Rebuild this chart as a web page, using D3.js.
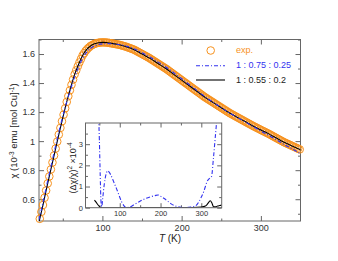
<!DOCTYPE html>
<html>
<head>
<meta charset="utf-8">
<script src="https://cdn.jsdelivr.net/npm/d3@7"></script>
<style>
  body { margin: 0; background: #fff; }
  text { font-family: "Liberation Sans", Arial, sans-serif; }
</style>
</head>
<body>
<div id="chart"></div>
<script>
// measured susceptibility, T in K, chi in 1e-3 emu/mol Cu
const expT = [21, 23, 25, 27, 29, 31, 33, 35, 37, 39, 41, 43, 45, 47, 49, 51, 53, 55, 57, 59,
  61, 63, 65, 67, 69, 71, 73, 75, 77, 79, 81, 83, 85, 87, 89, 91, 93, 95, 97, 99,
  101, 103, 105, 107, 109, 111, 113, 115, 117, 119, 121, 123, 125, 127, 129, 131, 133, 135, 137, 139,
  141, 143, 145, 147, 149, 151, 153, 155, 157, 159, 161, 163, 165, 167, 169, 171, 173, 175, 177, 179,
  181, 183, 185, 187, 189, 191, 193, 195, 197, 199, 201, 203, 205, 207, 209, 211, 213, 215, 217, 219,
  221, 223, 225, 227, 229, 231, 233, 235, 237, 239, 241, 243, 245, 247, 249, 251, 253, 255, 257, 259,
  261, 263, 265, 267, 269, 271, 273, 275, 277, 279, 281, 283, 285, 287, 289, 291, 293, 295, 297, 299,
  301, 303, 305, 307, 309, 311, 313, 315, 317, 319, 321, 323, 325, 327, 329, 331, 333, 335, 337, 339,
  341, 343, 345, 347, 349];
const expChi = [0.465, 0.513, 0.560, 0.610, 0.660, 0.709, 0.757, 0.805, 0.853, 0.901, 0.949, 0.997, 1.045, 1.091, 1.137, 1.182, 1.226, 1.270, 1.310, 1.350,
  1.388, 1.424, 1.460, 1.488, 1.516, 1.542, 1.566, 1.590, 1.606, 1.622, 1.635, 1.645, 1.655, 1.661, 1.667, 1.672, 1.675, 1.678, 1.679, 1.680,
  1.680, 1.680, 1.679, 1.678, 1.676, 1.674, 1.672, 1.670, 1.668, 1.666, 1.664, 1.661, 1.658, 1.655, 1.652, 1.648, 1.644, 1.640, 1.636, 1.632,
  1.627, 1.621, 1.615, 1.609, 1.603, 1.597, 1.591, 1.585, 1.579, 1.573, 1.566, 1.559, 1.552, 1.545, 1.538, 1.531, 1.524, 1.517, 1.510, 1.503,
  1.496, 1.488, 1.480, 1.472, 1.464, 1.456, 1.448, 1.440, 1.432, 1.424, 1.416, 1.408, 1.400, 1.392, 1.384, 1.376, 1.368, 1.360, 1.352, 1.344,
  1.336, 1.328, 1.320, 1.312, 1.304, 1.297, 1.290, 1.283, 1.276, 1.269, 1.262, 1.255, 1.248, 1.241, 1.234, 1.227, 1.220, 1.213, 1.206, 1.199,
  1.192, 1.186, 1.180, 1.174, 1.168, 1.162, 1.156, 1.150, 1.144, 1.138, 1.132, 1.126, 1.120, 1.114, 1.108, 1.102, 1.097, 1.091, 1.086, 1.080,
  1.074, 1.069, 1.064, 1.058, 1.053, 1.047, 1.041, 1.035, 1.029, 1.023, 1.017, 1.011, 1.005, 0.999, 0.993, 0.988, 0.983, 0.978, 0.973, 0.968,
  0.963, 0.958, 0.953, 0.948, 0.943];

// fits
const fitT = [20, 25, 30, 35, 40, 45, 50, 55, 60, 65, 70, 75, 80, 85, 90, 95, 100, 105, 110, 120,
  130, 140, 150, 160, 170, 180, 190, 200, 210, 220, 230, 240, 250, 260, 270, 280, 290, 300, 310, 320,
  330, 340, 350];
const fitBlack = [0.442, 0.560, 0.685, 0.805, 0.925, 1.045, 1.160, 1.270, 1.370, 1.460, 1.530, 1.590, 1.630, 1.655, 1.670, 1.678, 1.680, 1.679, 1.675, 1.665,
  1.650, 1.630, 1.600, 1.570, 1.535, 1.500, 1.460, 1.420, 1.380, 1.340, 1.300, 1.265, 1.230, 1.195, 1.165, 1.135, 1.105, 1.077, 1.050, 1.020,
  0.990, 0.965, 0.940];
const fitBlue = [0.460, 0.577, 0.704, 0.824, 0.945, 1.064, 1.171, 1.271, 1.358, 1.443, 1.510, 1.570, 1.611, 1.638, 1.655, 1.665, 1.670, 1.672, 1.671, 1.666,
  1.655, 1.637, 1.609, 1.580, 1.546, 1.511, 1.471, 1.430, 1.388, 1.346, 1.304, 1.267, 1.231, 1.195, 1.164, 1.133, 1.101, 1.069, 1.040, 1.008,
  0.975, 0.945, 0.914];

// inset: (dchi/chi)^2 x 1e4
const blueInT = [38, 42, 46, 48, 50, 52, 54, 56, 58, 62, 66, 70, 74, 78, 85, 92, 98, 104, 110, 116,
  124, 134, 145, 155, 165, 176, 186, 194, 202, 210, 218, 226, 234, 242, 250, 258, 270, 281, 288, 294,
  300, 306, 310, 314, 320, 325, 330, 335, 340, 345, 350];
const blueIn = [14, 10, 6, 4.5, 3.2, 1.6, 0.3, 0.05, 0.4, 1.1, 1.55, 1.74, 1.68, 1.55, 1.23, 0.9, 0.6, 0.3, 0.1, 0.01,
  0.03, 0.13, 0.25, 0.36, 0.45, 0.52, 0.57, 0.6, 0.52, 0.42, 0.3, 0.18, 0.1, 0.05, 0.02, 0.0, 0.02, 0.05, 0.12, 0.28,
  0.5, 0.76, 1.0, 1.23, 1.38, 1.47, 2.4, 3.5, 4.6, 6, 8];
const blackInT = [38, 42, 46, 50, 54, 58, 80, 120, 160, 200, 240, 280, 300, 310, 314, 318, 322, 326, 330, 335, 340, 345, 350];
const blackIn = [0.36, 0.26, 0.15, 0.06, 0.01, 0.0, 0.0, 0.0, 0.01, 0.01, 0.01, 0.01, 0.03, 0.08, 0.15, 0.25, 0.33, 0.22, 0.04, 0.04, 0.08, 0.1, 0.12];

const xTicks = [100, 200, 300], xMinor = [50, 150, 250];
const yTicks = [0.6, 0.8, 1.0, 1.2, 1.4, 1.6], yMinor = [0.5, 0.7, 0.9, 1.1, 1.3, 1.5, 1.7];
const ixTicks = [100, 200, 300], ixMinor = [50, 150, 250];
const iyTicks = [0, 1, 2, 3], iyMinor = [0.5, 1.5, 2.5, 3.5];

const legendItems = ["exp.", "1 : 0.75 : 0.25", "1 : 0.55 : 0.2"];

const W = 338, H = 261;
const orange = "#f7921e", blue = "#3232f0", frameCol = "#666";

const svg = d3.select("#chart").append("svg")
  .attr("width", W).attr("height", H)
  .style("background", "#fff");

// main frame
const L = 39, R = 300.5, T = 39.5, B = 221;
const x = d3.scaleLinear().domain([20, 350]).range([L, R]);
const y = d3.scaleLinear().domain([0.45, 1.7]).range([B, T]);

function styleAxis(g, size) {
  g.select(".domain").remove();
  g.selectAll(".tick line").attr("stroke", frameCol);
  g.selectAll(".tick text").attr("fill", "#333").style("font-size", size + "px");
}

svg.append("g").attr("transform", `translate(0,${B})`)
  .call(d3.axisBottom(x).tickValues(xTicks).tickSize(-5).tickPadding(4).tickFormat(d3.format("d")))
  .call(g => styleAxis(g, 9));
svg.append("g").attr("transform", `translate(0,${B})`)
  .call(d3.axisBottom(x).tickValues(xMinor).tickSize(-2.5).tickFormat(""))
  .call(g => styleAxis(g, 9));
svg.append("g").attr("transform", `translate(0,${T})`)
  .call(d3.axisTop(x).tickValues(xTicks).tickSize(-5).tickFormat(""))
  .call(g => styleAxis(g, 9));
svg.append("g").attr("transform", `translate(0,${T})`)
  .call(d3.axisTop(x).tickValues(xMinor).tickSize(-2.5).tickFormat(""))
  .call(g => styleAxis(g, 9));

svg.append("g").attr("transform", `translate(${L},0)`)
  .call(d3.axisLeft(y).tickValues(yTicks).tickSize(-5).tickPadding(4)
    .tickFormat(d => d === 1 ? "1" : d3.format(".1f")(d)))
  .call(g => styleAxis(g, 9));
svg.append("g").attr("transform", `translate(${L},0)`)
  .call(d3.axisLeft(y).tickValues(yMinor).tickSize(-2.5).tickFormat(""))
  .call(g => styleAxis(g, 9));
svg.append("g").attr("transform", `translate(${R},0)`)
  .call(d3.axisRight(y).tickValues(yTicks).tickSize(-5).tickFormat(""))
  .call(g => styleAxis(g, 9));
svg.append("g").attr("transform", `translate(${R},0)`)
  .call(d3.axisRight(y).tickValues(yMinor).tickSize(-2.5).tickFormat(""))
  .call(g => styleAxis(g, 9));

svg.append("rect")
  .attr("x", L).attr("y", T).attr("width", R - L).attr("height", B - T)
  .attr("fill", "none").attr("stroke", frameCol).attr("stroke-width", 1);

// axis titles
svg.append("text")
  .attr("x", 170).attr("y", 241.5).attr("text-anchor", "middle")
  .style("font-size", "10px").attr("fill", "#222")
  .call(t => {
    t.append("tspan").style("font-style", "italic").text("T");
    t.append("tspan").text(" (K)");
  });

svg.append("text")
  .attr("transform", "translate(17,131) rotate(-90)")
  .attr("text-anchor", "middle")
  .style("font-size", "9.5px").attr("fill", "#222")
  .call(t => {
    t.append("tspan").text("χ (10");
    t.append("tspan").attr("dy", -3.5).style("font-size", "6.5px").text("-3");
    t.append("tspan").attr("dy", 3.5).text(" emu [mol Cu]");
    t.append("tspan").attr("dy", -3.5).style("font-size", "6.5px").text("-1");
    t.append("tspan").attr("dy", 3.5).text(")");
  });

// clip for main data
svg.append("clipPath").attr("id", "main-clip")
  .append("rect").attr("x", L).attr("y", T).attr("width", R - L).attr("height", B - T);

const plot = svg.append("g");

plot.selectAll("circle.exp")
  .data(expT.map((t, i) => ({ t, v: expChi[i] })))
  .join("circle")
    .attr("class", "exp")
    .attr("cx", d => x(d.t))
    .attr("cy", d => y(d.v))
    .attr("r", 3.8)
    .attr("fill", "none")
    .attr("stroke", orange)
    .attr("stroke-width", 1);

const line = d3.line()
  .x(d => x(d.t))
  .y(d => y(d.v))
  .curve(d3.curveMonotoneX);

plot.append("path")
  .datum(fitT.map((t, i) => ({ t, v: fitBlack[i] })))
  .attr("clip-path", "url(#main-clip)")
  .attr("fill", "none").attr("stroke", "#000").attr("stroke-width", 1.1)
  .attr("d", line);

plot.append("path")
  .datum(fitT.map((t, i) => ({ t, v: fitBlue[i] })))
  .attr("clip-path", "url(#main-clip)")
  .attr("fill", "none").attr("stroke", blue).attr("stroke-width", 1.1)
  .attr("stroke-dasharray", "4,2,1,2")
  .attr("d", line);

// legend
const lg = svg.append("g");
lg.append("circle").attr("cx", 210.7).attr("cy", 50.5).attr("r", 3.8)
  .attr("fill", "none").attr("stroke", orange);
lg.append("line").attr("x1", 196).attr("x2", 225).attr("y1", 65.7).attr("y2", 65.7)
  .attr("stroke", blue).attr("stroke-width", 1.1).attr("stroke-dasharray", "4,2,1,2");
lg.append("line").attr("x1", 196).attr("x2", 225).attr("y1", 80).attr("y2", 80)
  .attr("stroke", "#000").attr("stroke-width", 1.1);
const legCols = [orange, blue, "#222"];
lg.selectAll("text").data(legendItems).join("text")
  .attr("x", 236).attr("y", (d, i) => 53 + i * 14.8)
  .style("font-size", "9px")
  .attr("fill", (d, i) => legCols[i])
  .text(d => d);

// inset
const iL = 85.5, iR = 221.7, iT = 123, iB = 207.7;
const xi = d3.scaleLinear().domain([16, 350]).range([iL, iR]);
const yi = d3.scaleLinear().domain([0, 4]).range([iB, iT]);

const inset = svg.append("g");
inset.append("rect")
  .attr("x", iL).attr("y", iT).attr("width", iR - iL).attr("height", iB - iT)
  .attr("fill", "#fff");

inset.append("g").attr("transform", `translate(0,${iB})`)
  .call(d3.axisBottom(xi).tickValues(ixTicks).tickSize(-4.5).tickPadding(2.5).tickFormat(d3.format("d")))
  .call(g => styleAxis(g, 7.5));
inset.append("g").attr("transform", `translate(0,${iB})`)
  .call(d3.axisBottom(xi).tickValues(ixMinor).tickSize(-2.5).tickFormat(""))
  .call(g => styleAxis(g, 7.5));
inset.append("g").attr("transform", `translate(0,${iT})`)
  .call(d3.axisTop(xi).tickValues(ixTicks).tickSize(-4.5).tickFormat(""))
  .call(g => styleAxis(g, 7.5));
inset.append("g").attr("transform", `translate(0,${iT})`)
  .call(d3.axisTop(xi).tickValues(ixMinor).tickSize(-2.5).tickFormat(""))
  .call(g => styleAxis(g, 7.5));
inset.append("g").attr("transform", `translate(${iL},0)`)
  .call(d3.axisLeft(yi).tickValues(iyTicks).tickSize(-4.5).tickPadding(2.5).tickFormat(d3.format("d")))
  .call(g => styleAxis(g, 7.5));
inset.append("g").attr("transform", `translate(${iL},0)`)
  .call(d3.axisLeft(yi).tickValues(iyMinor).tickSize(-2.5).tickFormat(""))
  .call(g => styleAxis(g, 7.5));
inset.append("g").attr("transform", `translate(${iR},0)`)
  .call(d3.axisRight(yi).tickValues(iyTicks).tickSize(-4.5).tickFormat(""))
  .call(g => styleAxis(g, 7.5));
inset.append("g").attr("transform", `translate(${iR},0)`)
  .call(d3.axisRight(yi).tickValues(iyMinor).tickSize(-2.5).tickFormat(""))
  .call(g => styleAxis(g, 7.5));

inset.append("clipPath").attr("id", "inset-clip")
  .append("rect").attr("x", iL).attr("y", iT).attr("width", iR - iL).attr("height", iB - iT);

const iline = d3.line()
  .x(d => xi(d.t))
  .y(d => yi(d.v))
  .curve(d3.curveMonotoneX);

inset.append("path")
  .datum(blackInT.map((t, i) => ({ t, v: blackIn[i] })))
  .attr("clip-path", "url(#inset-clip)")
  .attr("fill", "none").attr("stroke", "#000").attr("stroke-width", 1.1)
  .attr("d", iline);

inset.append("path")
  .datum(blueInT.map((t, i) => ({ t, v: blueIn[i] })))
  .attr("clip-path", "url(#inset-clip)")
  .attr("fill", "none").attr("stroke", blue).attr("stroke-width", 1.1)
  .attr("stroke-dasharray", "4,2,1,2")
  .attr("d", iline);

inset.append("rect")
  .attr("x", iL).attr("y", iT).attr("width", iR - iL).attr("height", iB - iT)
  .attr("fill", "none").attr("stroke", frameCol).attr("stroke-width", 1);

inset.append("text")
  .attr("transform", "translate(75.5,168) rotate(-90)")
  .attr("text-anchor", "middle")
  .style("font-size", "9px").attr("fill", "#222")
  .call(t => {
    t.append("tspan").text("(Δχ/χ)");
    t.append("tspan").attr("dy", -3.5).style("font-size", "6.5px").text("2");
    t.append("tspan").attr("dy", 3.5).text(" ×10");
    t.append("tspan").attr("dy", -3.5).style("font-size", "6.5px").text("-4");
  });
</script>
</body>
</html>
